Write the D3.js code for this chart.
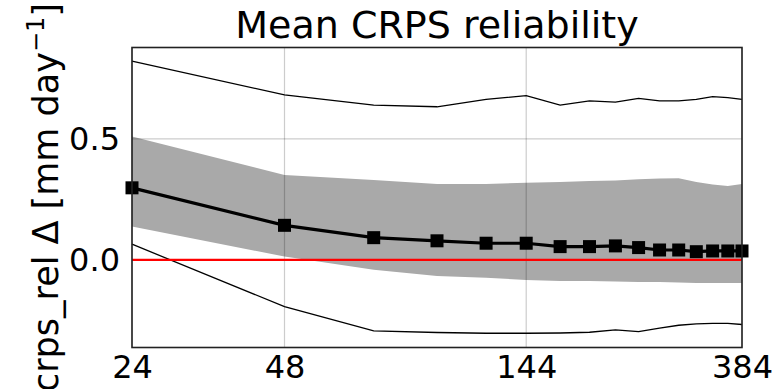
<!DOCTYPE html>
<html>
<head>
<meta charset="utf-8">
<script src="https://cdn.jsdelivr.net/npm/d3@7"></script>
<style>
  html, body { margin: 0; padding: 0; background: #fff; }
  svg { display: block; font-family: "DejaVu Sans", sans-serif; }
</style>
</head>
<body>
<svg id="chart" width="776" height="389"></svg>
<script>
// lead times (hours), every 24h
const leadTimes = [24, 48, 72, 96, 120, 144, 168, 192, 216, 240, 264, 288, 312, 336, 360, 384];

// mean CRPS reliability difference
const meanVals  = [0.298, 0.143, 0.092, 0.079, 0.069, 0.069, 0.055, 0.055, 0.058, 0.051, 0.041, 0.041, 0.034, 0.037, 0.037, 0.037];
// shaded spread band
const bandHigh  = [0.510, 0.351, 0.330, 0.314, 0.314, 0.319, 0.322, 0.326, 0.328, 0.333, 0.337, 0.338, 0.322, 0.312, 0.306, 0.314];
const bandLow   = [0.138, 0.014, -0.041, -0.066, -0.074, -0.083, -0.087, -0.087, -0.089, -0.091, -0.091, -0.093, -0.095, -0.095, -0.095, -0.095];
// thin envelope lines (max / min)
const maxVals   = [0.822, 0.682, 0.640, 0.633, 0.664, 0.679, 0.640, 0.657, 0.652, 0.668, 0.657, 0.657, 0.664, 0.675, 0.671, 0.664];
const minVals   = [0.065, -0.193, -0.293, -0.300, -0.303, -0.303, -0.302, -0.299, -0.289, -0.296, -0.282, -0.270, -0.264, -0.262, -0.262, -0.267];

const xTicks = [24, 48, 144, 384];
const yTicks = [0.0, 0.5];

const CONFIG = {
  left   : 132,
  right  : 742,
  top    : 47.5,
  bottom : 347.5,
  yMin   : -0.362,
  yMax   : 0.878
};

const svg = d3.select('#chart');

const x = d3.scaleLog().domain([24, 384]).range([CONFIG.left, CONFIG.right]);
const y = d3.scaleLinear().domain([CONFIG.yMin, CONFIG.yMax]).range([CONFIG.bottom, CONFIG.top]);

const rows = leadTimes.map((t, i) => ({
  t, mean: meanVals[i], hi: bandHigh[i], lo: bandLow[i], max: maxVals[i], min: minVals[i]
}));

// ---------- band ----------
svg.append('path')
  .datum(rows)
  .attr('fill', '#a9a9a9')
  .attr('d', d3.area().x(d => x(d.t)).y0(d => y(d.lo)).y1(d => y(d.hi)));

// ---------- grid ----------
const grid = svg.append('g').attr('class', 'grid');
grid.selectAll('line.gx').data(xTicks).enter().append('line')
  .attr('x1', d => x(d)).attr('x2', d => x(d))
  .attr('y1', CONFIG.top).attr('y2', CONFIG.bottom)
  .attr('stroke', '#000').attr('stroke-opacity', 0.2).attr('stroke-width', 1.2);
grid.selectAll('line.gy').data(yTicks).enter().append('line')
  .attr('x1', CONFIG.left).attr('x2', CONFIG.right)
  .attr('y1', d => y(d)).attr('y2', d => y(d))
  .attr('stroke', '#000').attr('stroke-opacity', 0.2).attr('stroke-width', 1.2);

// ---------- envelope lines ----------
const thin = (key) => d3.line().x(d => x(d.t)).y(d => y(d[key]));
['max', 'min'].forEach(k => {
  svg.append('path').datum(rows)
    .attr('fill', 'none').attr('stroke', '#000').attr('stroke-width', 1.3)
    .attr('d', thin(k));
});

// ---------- zero line ----------
svg.append('line')
  .attr('x1', CONFIG.left).attr('x2', CONFIG.right)
  .attr('y1', y(0)).attr('y2', y(0))
  .attr('stroke', 'red').attr('stroke-width', 2.2);

// ---------- mean line + markers ----------
svg.append('path').datum(rows)
  .attr('fill', 'none').attr('stroke', '#000').attr('stroke-width', 3.2)
  .attr('d', thin('mean'));
const ms = 13;
svg.selectAll('rect.mk').data(rows).enter().append('rect')
  .attr('class', 'mk')
  .attr('x', d => x(d.t) - ms / 2).attr('y', d => y(d.mean) - ms / 2)
  .attr('width', ms).attr('height', ms)
  .attr('fill', '#000');

// ---------- frame ----------
svg.append('rect')
  .attr('x', CONFIG.left).attr('y', CONFIG.top)
  .attr('width', CONFIG.right - CONFIG.left).attr('height', CONFIG.bottom - CONFIG.top)
  .attr('fill', 'none').attr('stroke', '#222').attr('stroke-width', 1.6);

// ---------- axes labels ----------
const xAxis = d3.axisBottom(x).tickValues(xTicks).tickFormat(d3.format('d')).tickSize(0).tickPadding(8);
svg.append('g')
  .attr('transform', `translate(0,${CONFIG.bottom})`)
  .call(xAxis)
  .call(g => g.select('.domain').remove())
  .selectAll('text').attr('font-size', 32).attr('fill', '#000').attr('font-family', '"DejaVu Sans", sans-serif');

const yAxis = d3.axisLeft(y).tickValues(yTicks).tickFormat(d3.format('.1f')).tickSize(0).tickPadding(12);
svg.append('g')
  .attr('transform', `translate(${CONFIG.left},0)`)
  .call(yAxis)
  .call(g => g.select('.domain').remove())
  .selectAll('text').attr('font-size', 32).attr('fill', '#000').attr('font-family', '"DejaVu Sans", sans-serif');

// title
svg.append('text')
  .attr('x', (CONFIG.left + CONFIG.right) / 2).attr('y', 38)
  .attr('text-anchor', 'middle').attr('font-size', 38).attr('fill', '#000')
  .text('Mean CRPS reliability');

// y label
const yl = svg.append('text')
  .attr('transform', `translate(58,${(CONFIG.top + CONFIG.bottom) / 2}) rotate(-90)`)
  .attr('text-anchor', 'middle').attr('font-size', 35).attr('fill', '#000');
yl.append('tspan').text('crps_rel \u0394 [mm day');
yl.append('tspan').attr('font-size', 24).attr('dy', -14).text('\u22121');
yl.append('tspan').attr('dy', 14).text(']');
</script>
</body>
</html>
